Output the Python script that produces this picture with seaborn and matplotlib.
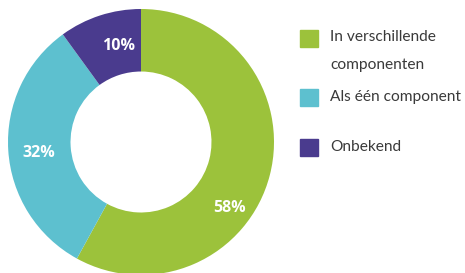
import numpy as np
import matplotlib
matplotlib.use("Agg")
import matplotlib.pyplot as plt
import seaborn as sns
from matplotlib.patches import Rectangle

# Data
categories = ["In verschillende\ncomponenten", "Als één component", "Onbekend"]
shares = [58, 32, 10]
colors = ["#9cc23b", "#5dc0cf", "#4a3b8e"]

sns.set_theme(style="white")
plt.rcParams["font.family"] = ["Open Sans", "DejaVu Sans"]

W, H = 465, 273
fig = plt.figure(figsize=(W / 100, H / 100), dpi=100)

# donut axes in pixel coords: centre (141, 142), radius 133
cx, cy, r = 141, 142, 133
ax = fig.add_axes([(cx - r) / W, (H - cy - r) / H, 2 * r / W, 2 * r / H])
wedges, _ = ax.pie(shares, colors=colors, startangle=90, counterclock=False,
                   radius=1, wedgeprops=dict(width=0.47, linewidth=0))
ax.set_xlim(-1, 1)
ax.set_ylim(-1, 1)
ax.set_aspect("equal")
ax.axis("off")

# percentage labels (angle in degrees, distance from centre)
label_pos = [(-37, 0.83), (186, 0.77), (103, 0.74)]
for val, (ang, dist) in zip(shares, label_pos):
    a = np.deg2rad(ang)
    ax.text(dist * np.cos(a), dist * np.sin(a), f"{val}%", color="white",
            fontsize=11.5, fontweight="bold", ha="center", va="center")

# legend drawn by hand
sq_y = [38, 97, 147]
text_y = [[37, 65], [97], [147]]
for col, lab, sy, ty in zip(colors, categories, sq_y, text_y):
    fig.patches.append(Rectangle((300 / W, (H - sy - 8.5) / H), 18 / W, 17 / H,
                                 transform=fig.transFigure, color=col))
    for line, yy in zip(lab.split("\n"), ty):
        fig.text(330 / W, (H - yy) / H, line, fontsize=11.2, color="#3a3a3a",
                 family=["Lato", "DejaVu Sans"], ha="left", va="center")

fig.savefig("out.png", dpi=100, facecolor="white")
